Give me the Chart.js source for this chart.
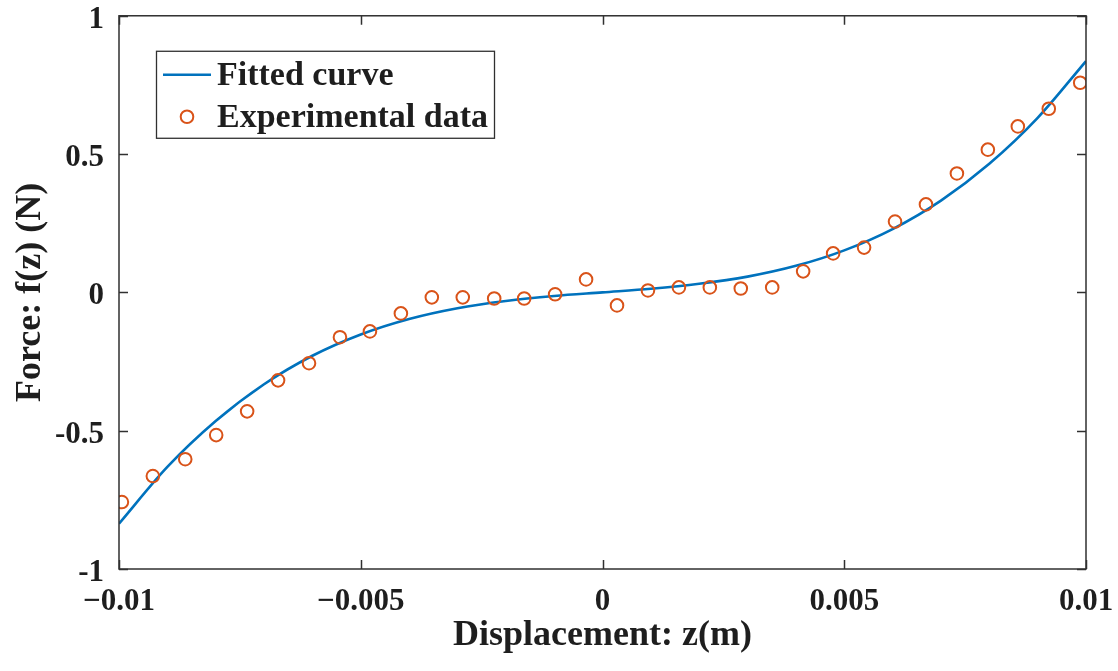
<!DOCTYPE html>
<html>
<head>
<meta charset="utf-8">
<title>Force vs displacement</title>
<script src="https://cdn.jsdelivr.net/npm/chart.js@4/dist/chart.umd.min.js"></script>
<style>
  html, body { margin: 0; padding: 0; background: #fff; }
  #wrap { width: 1118px; height: 671px; }
</style>
</head>
<body>
<div id="wrap"><canvas id="chart" width="1118" height="671"></canvas></div>
<script>
// measured points
const expZ = [-0.00994, -0.00930, -0.00863, -0.00799, -0.00735, -0.00671, -0.00607, -0.00543,
  -0.00481, -0.00417, -0.00353, -0.00289, -0.00224, -0.00162, -0.00098, -0.00034,
  0.00030, 0.00094, 0.00158, 0.00222, 0.00286, 0.00351, 0.00415, 0.00477,
  0.00541, 0.00605, 0.00669, 0.00733, 0.00797, 0.00859, 0.00923, 0.00988];
const expF = [-0.758, -0.664, -0.603, -0.516, -0.430, -0.318, -0.256, -0.162,
  -0.141, -0.076, -0.018, -0.018, -0.022, -0.022, -0.007, 0.047,
  -0.047, 0.007, 0.018, 0.018, 0.014, 0.018, 0.076, 0.141,
  0.162, 0.256, 0.318, 0.430, 0.516, 0.600, 0.664, 0.758];

// fitted curve, sampled every 1 mm
const fitZ = [-0.010, -0.009, -0.008, -0.007, -0.006, -0.005, -0.004, -0.003, -0.002, -0.001, 0,
  0.001, 0.002, 0.003, 0.004, 0.005, 0.006, 0.007, 0.008, 0.009, 0.010];
const fitF = [-0.836, -0.631, -0.465, -0.332, -0.229, -0.152, -0.096, -0.057, -0.031, -0.013, 0,
  0.013, 0.031, 0.057, 0.096, 0.152, 0.229, 0.332, 0.465, 0.631, 0.836];

const xTicks = [-0.01, -0.005, 0, 0.005, 0.01];
const xTickLabels = ['\u22120.01', '\u22120.005', '0', '0.005', '0.01'];
const yTicks = [-1, -0.5, 0, 0.5, 1];
const yTickLabels = ['-1', '-0.5', '0', '0.5', '1'];

const FONT = '"Liberation Serif", "Times New Roman", serif';
const INK = '#1e1e1e';
const BLUE = '#0072BD';
const ORANGE = '#D95319';

// axes box with inward ticks on all four sides
const boxTicks = {
  id: 'boxTicks',
  afterDatasetsDraw(chart) {
    const { ctx, chartArea: a, scales } = chart;
    const len = 9;
    ctx.save();
    ctx.strokeStyle = '#303030';
    ctx.lineWidth = 1.5;
    ctx.strokeRect(a.left, a.top, a.right - a.left, a.bottom - a.top);
    ctx.beginPath();
    xTicks.forEach(v => {
      const x = Math.round(scales.x.getPixelForValue(v)) + 0.5;
      ctx.moveTo(x, a.bottom); ctx.lineTo(x, a.bottom - len);
      ctx.moveTo(x, a.top); ctx.lineTo(x, a.top + len);
    });
    yTicks.forEach(v => {
      const y = Math.round(scales.y.getPixelForValue(v)) + 0.5;
      ctx.moveTo(a.left, y); ctx.lineTo(a.left + len, y);
      ctx.moveTo(a.right, y); ctx.lineTo(a.right - len, y);
    });
    ctx.stroke();
    ctx.restore();
  }
};

// boxed legend in the upper left of the axes
const boxLegend = {
  id: 'boxLegend',
  afterDraw(chart) {
    const { ctx, chartArea: a } = chart;
    const x0 = a.left + 37, y0 = a.top + 35, w = 338, h = 87;
    ctx.save();
    ctx.fillStyle = '#fff';
    ctx.fillRect(x0, y0, w, h);
    ctx.strokeStyle = '#303030';
    ctx.lineWidth = 1.3;
    ctx.strokeRect(x0 + 0.5, y0 + 0.5, w, h);

    const row1 = y0 + 24, row2 = y0 + 66;
    ctx.strokeStyle = BLUE;
    ctx.lineWidth = 2.5;
    ctx.beginPath();
    ctx.moveTo(x0 + 7, row1); ctx.lineTo(x0 + 55, row1);
    ctx.stroke();

    ctx.strokeStyle = ORANGE;
    ctx.lineWidth = 2;
    ctx.beginPath();
    ctx.arc(x0 + 31, row2, 6.3, 0, Math.PI * 2);
    ctx.stroke();

    ctx.fillStyle = INK;
    ctx.font = 'bold 34px ' + FONT;
    ctx.textBaseline = 'middle';
    ctx.textAlign = 'left';
    ctx.fillText(chart.data.datasets[0].label, x0 + 61, row1 + 1);
    ctx.fillText(chart.data.datasets[1].label, x0 + 61, row2 + 1);
    ctx.restore();
  }
};

new Chart(document.getElementById('chart'), {
  type: 'scatter',
  data: {
    datasets: [
      {
        label: 'Fitted curve',
        data: fitZ.map((z, i) => ({ x: z, y: fitF[i] })),
        showLine: true,
        borderColor: BLUE,
        borderWidth: 2.6,
        pointRadius: 0,
        cubicInterpolationMode: 'monotone',
        order: 2
      },
      {
        label: 'Experimental data',
        data: expZ.map((z, i) => ({ x: z, y: expF[i] })),
        showLine: false,
        pointStyle: 'circle',
        pointRadius: 6.3,
        pointBorderWidth: 2,
        pointBackgroundColor: 'rgba(0,0,0,0)',
        pointBorderColor: ORANGE,
        order: 1
      }
    ]
  },
  options: {
    responsive: false,
    animation: false,
    events: [],
    layout: { padding: { left: 0, right: 32, top: 15, bottom: 0 } },
    plugins: { legend: { display: false }, tooltip: { enabled: false } },
    scales: {
      x: {
        type: 'linear',
        min: -0.01,
        max: 0.01,
        afterBuildTicks: s => { s.ticks = xTicks.map(v => ({ value: v })); },
        afterFit: s => { s.height = 102; },
        grid: { display: false, drawTicks: false },
        border: { display: false },
        ticks: {
          padding: 4,
          color: INK,
          font: { family: FONT, size: 31, weight: 'bold', lineHeight: 1.87 },
          maxRotation: 0,
          callback: (v, i) => xTickLabels[i]
        },
        title: {
          display: true,
          text: 'Displacement: z(m)',
          color: INK,
          font: { family: FONT, size: 36, weight: 'bold' },
          padding: { top: 0, bottom: 14 }
        }
      },
      y: {
        type: 'linear',
        min: -1,
        max: 1,
        afterBuildTicks: s => { s.ticks = yTicks.map(v => ({ value: v })); },
        afterFit: s => { s.width = 119; },
        grid: { display: false, drawTicks: false },
        border: { display: false },
        ticks: {
          padding: 15,
          labelOffset: 4,
          color: INK,
          font: { family: FONT, size: 31, weight: 'bold', lineHeight: 0.05 },
          callback: (v, i) => yTickLabels[i]
        },
        title: {
          display: true,
          text: 'Force: f(z) (N)',
          color: INK,
          font: { family: FONT, size: 36, weight: 'bold' },
          padding: { top: 9, bottom: 0 }
        }
      }
    }
  },
  plugins: [boxTicks, boxLegend]
});
</script>
</body>
</html>
